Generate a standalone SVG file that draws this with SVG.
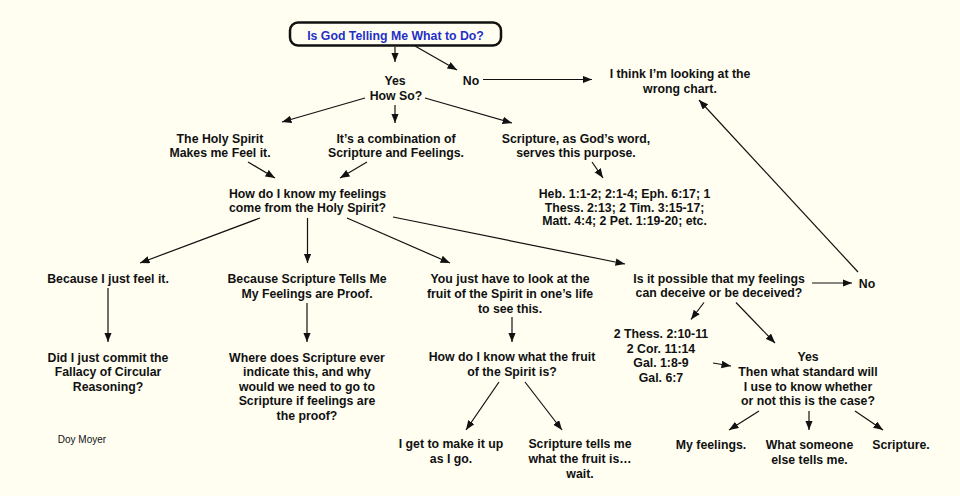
<svg xmlns="http://www.w3.org/2000/svg" width="960" height="496" viewBox="0 0 960 496">
<defs>
<style>
text{font-family:"Liberation Sans",Arial,Helvetica,sans-serif;font-size:12.3px;font-weight:bold;fill:#111;text-anchor:middle}
.title{fill:#1f30c8}
.small{font-size:10px;font-weight:normal}
.edge{stroke:#111;stroke-width:1.2;fill:none;marker-end:url(#ah)}
</style>
<marker id="ah" markerUnits="userSpaceOnUse" markerWidth="10" markerHeight="8" refX="9.5" refY="3.75" orient="auto">
<path d="M0,0 L9.5,3.75 L0,7.5 z" fill="#111"/>
</marker>
</defs>
<rect width="960" height="496" fill="#fffef1"/>
<g id="connectors">
<line class="edge" x1="395" y1="47" x2="395" y2="62"/>
<line class="edge" x1="415" y1="46" x2="457" y2="70"/>
<line class="edge" x1="483" y1="79.5" x2="592" y2="79.5"/>
<line class="edge" x1="365" y1="98" x2="282" y2="122"/>
<line class="edge" x1="395" y1="105" x2="395" y2="123"/>
<line class="edge" x1="425" y1="98" x2="512" y2="123"/>
<line class="edge" x1="248" y1="162" x2="275" y2="178"/>
<line class="edge" x1="367" y1="162" x2="340" y2="178"/>
<line class="edge" x1="592" y1="162" x2="603" y2="178"/>
<line class="edge" x1="260" y1="218" x2="140" y2="263"/>
<line class="edge" x1="307.5" y1="218" x2="307.5" y2="263"/>
<line class="edge" x1="347" y1="218" x2="450" y2="263"/>
<line class="edge" x1="393" y1="217" x2="625" y2="264"/>
<line class="edge" x1="108" y1="288" x2="108" y2="342"/>
<line class="edge" x1="307" y1="303" x2="307" y2="342"/>
<line class="edge" x1="512" y1="317" x2="512" y2="342"/>
<line class="edge" x1="499" y1="382" x2="466" y2="430"/>
<line class="edge" x1="525" y1="382" x2="562" y2="430"/>
<line class="edge" x1="812" y1="283" x2="852" y2="283"/>
<line class="edge" x1="858" y1="272" x2="699" y2="100"/>
<line class="edge" x1="704" y1="302.5" x2="691" y2="319.5"/>
<line class="edge" x1="736" y1="302.5" x2="775" y2="343"/>
<line class="edge" x1="713" y1="363" x2="731" y2="366"/>
<line class="edge" x1="759" y1="411" x2="729" y2="430"/>
<line class="edge" x1="809" y1="411" x2="809" y2="430"/>
<line class="edge" x1="855" y1="411" x2="883" y2="430"/>
</g>
<g id="n-title">
<rect x="290" y="22.5" width="211" height="23" rx="8" ry="8" fill="#fffef1" stroke="#111" stroke-width="2.5"/>
<text class="title" x="395.5" y="40">Is God Telling Me What to Do?</text>
</g>
<g id="n-yes"><text x="395" y="84.5">Yes</text><text x="396" y="99.5">How So?</text></g>
<g id="n-no1"><text x="471" y="84.5">No</text></g>
<g id="n-wrong"><text x="680" y="78">I think I’m looking at the</text><text x="680" y="92.5">wrong chart.</text></g>
<g id="n-holy"><text x="220" y="142.5">The Holy Spirit</text><text x="220" y="156.5">Makes me Feel it.</text></g>
<g id="n-combo"><text x="396" y="142.5">It’s a combination of</text><text x="396" y="156.5">Scripture and Feelings.</text></g>
<g id="n-scripture"><text x="576" y="142.5">Scripture, as God’s word,</text><text x="576" y="156.5">serves this purpose.</text></g>
<g id="n-howknow"><text x="307.5" y="198">How do I know my feelings</text><text x="307.5" y="211.5">come from the Holy Spirit?</text></g>
<g id="n-refs"><text x="624.5" y="198">Heb. 1:1-2; 2:1-4; Eph. 6:17; 1</text><text x="624.5" y="211.5">Thess. 2:13; 2 Tim. 3:15-17;</text><text x="624.5" y="225">Matt. 4:4; 2 Pet. 1:19-20; etc.</text></g>
<g id="n-justfeel"><text x="108" y="283">Because I just feel it.</text></g>
<g id="n-tellsme"><text x="307" y="283">Because Scripture Tells Me</text><text x="307" y="298">My Feelings are Proof.</text></g>
<g id="n-fruit"><text x="510" y="283">You just have to look at the</text><text x="510" y="298">fruit of the Spirit in one’s life</text><text x="510" y="312.5">to see this.</text></g>
<g id="n-possible"><text x="719" y="283">Is it possible that my feelings</text><text x="719" y="297">can deceive or be deceived?</text></g>
<g id="n-no2"><text x="867" y="288">No</text></g>
<g id="n-circular"><text x="108" y="361.5">Did I just commit the</text><text x="108" y="376">Fallacy of Circular</text><text x="108" y="390.5">Reasoning?</text></g>
<g id="n-where"><text x="307" y="361.5">Where does Scripture ever</text><text x="307" y="376">indicate this, and why</text><text x="307" y="390.5">would we need to go to</text><text x="307" y="405">Scripture if feelings are</text><text x="307" y="419.5">the proof?</text></g>
<g id="n-whatfruit"><text x="512" y="361">How do I know what the fruit</text><text x="512" y="376">of the Spirit is?</text></g>
<g id="n-refs2"><text x="661" y="338">2 Thess. 2:10-11</text><text x="661" y="352.8">2 Cor. 11:14</text><text x="661" y="367.3">Gal. 1:8-9</text><text x="661" y="382">Gal. 6:7</text></g>
<g id="n-yes2"><text x="808" y="361">Yes</text><text x="808" y="375.5">Then what standard will</text><text x="808" y="390.5">I use to know whether</text><text x="808" y="405.2">or not this is the case?</text></g>
<g id="n-makeup"><text x="451" y="448">I get to make it up</text><text x="451" y="463">as I go.</text></g>
<g id="n-scripfruit"><text x="580" y="448">Scripture tells me</text><text x="580" y="463">what the fruit is…</text><text x="580" y="478">wait.</text></g>
<g id="n-myfeel"><text x="711" y="448.5">My feelings.</text></g>
<g id="n-someone"><text x="809.5" y="448.5">What someone</text><text x="809.5" y="463.5">else tells me.</text></g>
<g id="n-scripture2"><text x="901" y="448.5">Scripture.</text></g>
<g id="n-doy"><text class="small" x="82" y="443">Doy Moyer</text></g>
</svg>
